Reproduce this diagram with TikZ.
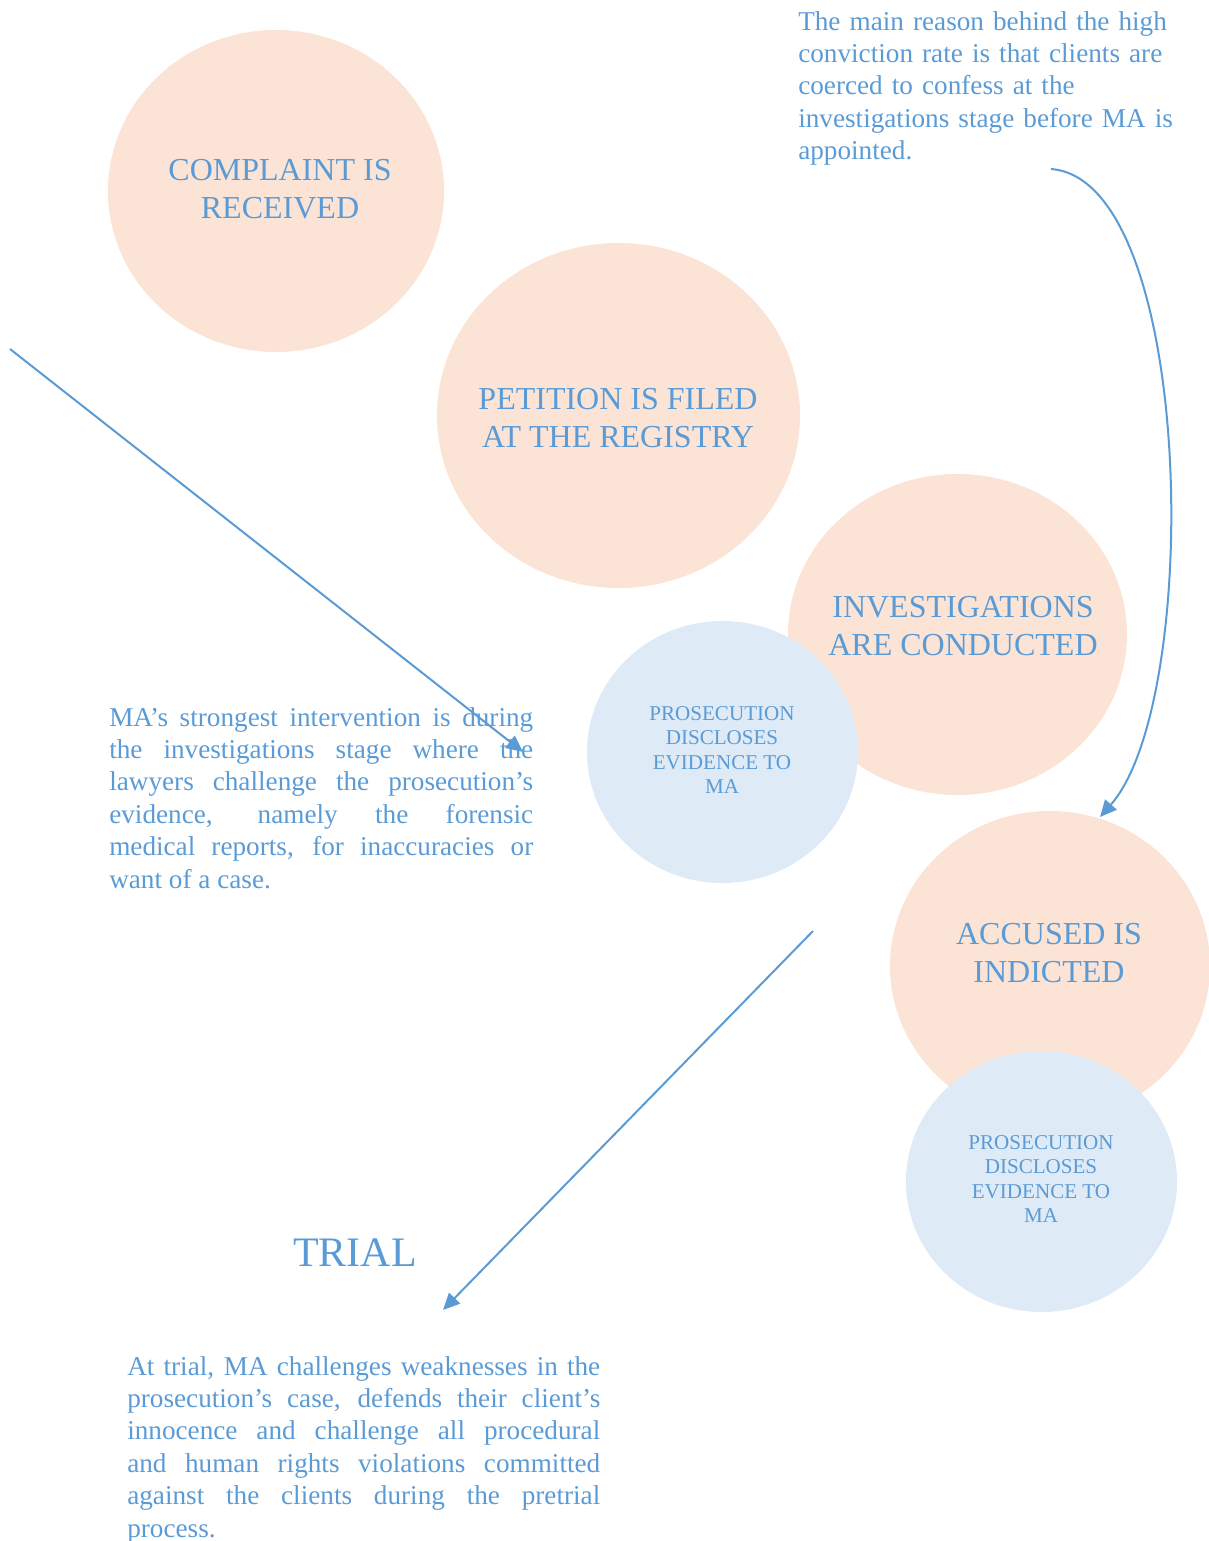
\documentclass[tikz,border=0pt]{standalone}
\usepackage{fontspec}
\setmainfont{Liberation Serif}
\usetikzlibrary{shapes.geometric,arrows.meta}
\definecolor{inkblue}{HTML}{5B9BD5}
\definecolor{peach}{HTML}{FBE4D5}
\definecolor{paleblue}{HTML}{DEEAF6}
\begin{document}
\begin{tikzpicture}[x=0.75pt,y=-0.75pt,
  stage/.style={ellipse, fill=peach, draw=none, inner sep=0pt},
  disclose/.style={ellipse, fill=paleblue, draw=none, inner sep=0pt},
  bigtext/.style={text=inkblue, align=center, inner sep=0pt, font=\fontsize{24}{28.5}\selectfont},
  smalltext/.style={text=inkblue, align=center, inner sep=0pt, font=\fontsize{15.8}{18.4}\selectfont},
  note/.style={text=inkblue, inner sep=0pt, anchor=north west, font=\fontsize{20.4}{24.3}\selectfont},
  flow/.style={draw=inkblue, line width=1.5pt, -{Triangle[length=12.5pt,width=11.5pt]}}]
\useasboundingbox (0,0) rectangle (1208,1541);

% stages of the process
\node[stage, minimum width=252pt, minimum height=241.5pt] (complaint) at (276,191) {};
\node[bigtext] (complaintText) at (280,189) {COMPLAINT IS\\RECEIVED};

\node[stage, minimum width=272.25pt, minimum height=258.75pt] (petition) at (618.5,415.5) {};
\node[bigtext] (petitionText) at (618,418) {PETITION IS FILED\\AT THE REGISTRY};

\node[stage, minimum width=254.25pt, minimum height=240.75pt] (investigations) at (957.5,634.5) {};
\node[bigtext] (investigationsText) at (963,626) {INVESTIGATIONS\\ARE CONDUCTED};

\node[disclose, minimum width=203.25pt, minimum height=196.5pt] (discloseA) at (722.5,752) {};
\node[smalltext] (discloseAText) at (722,750) {PROSECUTION\\DISCLOSES\\EVIDENCE TO\\MA};

\node[stage, minimum width=240pt, minimum height=232.5pt] (accused) at (1050,966) {};
\node[bigtext] (accusedText) at (1049,953) {ACCUSED IS\\INDICTED};

\node[disclose, minimum width=203.25pt, minimum height=195.75pt] (discloseB) at (1041.5,1181.5) {};
\node[smalltext] (discloseBText) at (1041,1179) {PROSECUTION\\DISCLOSES\\EVIDENCE TO\\MA};

\node[text=inkblue, inner sep=0pt, font=\fontsize{31.5}{36}\selectfont] (trial) at (355,1253) {TRIAL};

% commentary
\node[note, align=left, text width=300pt] (reason) at (798,11)
  {The main reason behind the high\\conviction rate is that clients are\\coerced to confess at the\\investigations stage before MA is\\appointed.};

\node[note, align=justify, text width=318pt] (intervention) at (109,707)
  {MA’s strongest intervention is during\linebreak the investigations stage where the\linebreak lawyers challenge the prosecution’s\linebreak evidence, namely the forensic\linebreak medical reports, for inaccuracies or\linebreak want of a case.};

\node[note, align=justify, text width=354.75pt] (atTrial) at (127,1356)
  {At trial, MA challenges weaknesses in the\linebreak prosecution’s case, defends their client’s\linebreak innocence and challenge all procedural\linebreak and human rights violations committed\linebreak against the clients during the pretrial\linebreak process.};

% connectors
\coordinate (interventionTail) at (10,349);
\coordinate (interventionTip) at (523,752);
\coordinate (reasonTail) at (1051,169);
\coordinate (reasonTip) at (1100,817);
\coordinate (trialTail) at (813,931);
\coordinate (trialTip) at (443,1310);

\draw[flow] (interventionTail) -- (interventionTip);
\draw[flow] (reasonTail) .. controls (1195,180) and (1203,700) .. (reasonTip);
\draw[flow] (trialTail) -- (trialTip);
\end{tikzpicture}
\end{document}
